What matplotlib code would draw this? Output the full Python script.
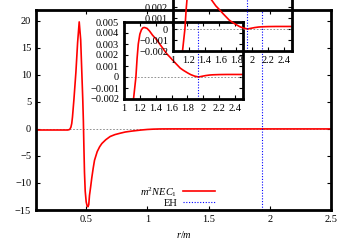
import matplotlib
matplotlib.use("Agg")
import matplotlib.pyplot as plt

plt.rcParams['font.family'] = ['Liberation Serif', 'DejaVu Serif']
plt.rcParams['mathtext.fontset'] = 'custom'
plt.rcParams['mathtext.rm'] = 'Liberation Serif'
plt.rcParams['mathtext.it'] = 'Liberation Serif:italic'

# values
r = [0.09, 0.2, 0.3, 0.35, 0.365, 0.375, 0.382, 0.388, 0.40, 0.416, 0.43, 0.443,
     0.455, 0.465, 0.472, 0.477, 0.481, 0.486, 0.492, 0.50, 0.507, 0.514, 0.521,
     0.527, 0.536, 0.546, 0.557, 0.568, 0.59, 0.61, 0.628, 0.66, 0.696, 0.735,
     0.777, 0.82, 0.873, 0.95, 1.0, 1.05, 1.1, 1.12, 1.135, 1.15, 1.165, 1.18,
     1.2, 1.22, 1.24, 1.26, 1.29, 1.32, 1.36, 1.41, 1.46, 1.5, 1.54, 1.58, 1.63,
     1.67, 1.71, 1.75, 1.8, 1.84, 1.89, 1.94, 1.98, 2.03, 2.08, 2.12, 2.2, 2.3,
     2.4, 2.5]
nec = [-0.2, -0.2, -0.2, -0.2, -0.1, 0.3, 1.0, 2.2, 5.5, 10.5, 16.0, 19.8,
       16.5, 10.0, 5.5, 1.5, -3.0, -8.0, -11.5, -13.5, -14.2, -14.4, -14.0,
       -12.3, -10.8, -9.0, -7.3, -5.8, -4.2, -3.3, -2.7, -2.0, -1.4, -1.05,
       -0.8, -0.57, -0.4, -0.2, -0.1, -0.04, -0.008, -0.002, -0.001, 0.0, 0.0017, 0.003,
       0.0039, 0.0043, 0.00448, 0.0045, 0.00442, 0.0042, 0.0038, 0.0034, 0.0029, 0.0025,
       0.0021, 0.0018, 0.0014, 0.0011, 0.0008, 0.0006, 0.00038, 0.00022, 0.00008, 0.0,
       0.00006, 0.00013, 0.00018, 0.0002, 0.00022, 0.00023, 0.00023, 0.00023]
r_eh = 1.935

main_xticks = [0.5, 1, 1.5, 2, 2.5]
main_yticks = [-15, -10, -5, 0, 5, 10, 15, 20]
inset_xticks = [1, 1.2, 1.4, 1.6, 1.8, 2, 2.2, 2.4]
inset_yticks = [-0.002, -0.001, 0, 0.001, 0.002, 0.003, 0.004, 0.005]

fs = 7.5


def style(ax):
    for s in ax.spines.values():
        s.set_linewidth(2)
    ax.tick_params(direction='in', top=True, right=True, length=3, width=0.8,
                   labelsize=fs, pad=3.5)
    ax.patch.set_alpha(0)


def fmt(v):
    s = ('%g' % v)
    return s.replace('-', '\u2212')


fig = plt.figure(figsize=(3.5, 2.45), dpi=100)

ax = fig.add_axes([36 / 350, 35 / 245, 295 / 350, 200 / 245])
style(ax)
ax.axhline(0, color='gray', lw=0.6, ls=(0, (2, 2)))
ax.plot(r, nec, color='red', lw=1.2, label='$m^2NEC_1$')
ax.axvline(r_eh, color='blue', lw=0.8, ls=(0, (1, 1.5)), label='EH')
ax.set_xlim(0.09, 2.5)
ax.set_ylim(-15, 22)
ax.set_xticks(main_xticks)
ax.set_xticklabels([fmt(v) for v in main_xticks])
ax.set_yticks(main_yticks)
ax.set_yticklabels([fmt(v) for v in main_yticks])
ax.set_xlabel('$r/m$', fontsize=fs, labelpad=4)
ax.legend(loc='lower right', bbox_to_anchor=(0.62, -0.01), frameon=False,
          markerfirst=False, fontsize=fs, handlelength=3.0, handletextpad=0.6,
          labelspacing=0.0, borderaxespad=0.2, borderpad=0.2)

for left, bottom in [(124 / 350, 146 / 245), (173 / 350, 194 / 245)]:
    ins = fig.add_axes([left, bottom, 119 / 350, 77 / 245])
    style(ins)
    ins.axhline(0, color='gray', lw=0.6, ls=(0, (2, 2)))
    ins.plot(r, nec, color='red', lw=1.2)
    ins.axvline(r_eh, color='blue', lw=0.8, ls=(0, (1, 1.5)))
    ins.set_xlim(1, 2.5)
    ins.set_ylim(-0.002, 0.005)
    ins.set_xticks(inset_xticks)
    ins.set_xticklabels([fmt(v) for v in inset_xticks])
    ins.set_yticks(inset_yticks)
    ins.set_yticklabels([fmt(v) for v in inset_yticks])

fig.savefig('out.png', dpi=100)
